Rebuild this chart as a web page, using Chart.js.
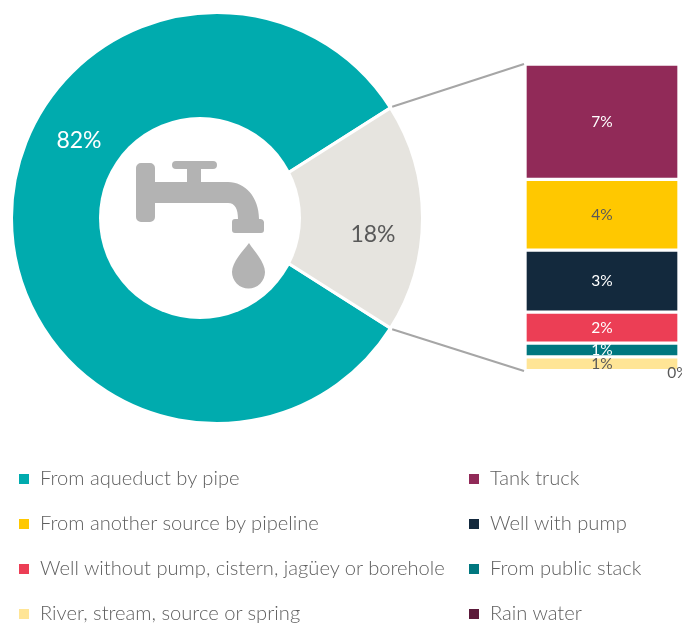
<!DOCTYPE html>
<html>
<head>
<meta charset="utf-8">
<script src="https://cdn.jsdelivr.net/npm/chart.js@4"></script>
<style>
  html, body { margin: 0; background: #fff; overflow: hidden; }
  #wrap { position: relative; width: 682px; height: 623px; overflow: hidden; }
  canvas { position: absolute; left: 0; top: 0; }
  .item { position: absolute; font: 300 20.15px Lato, sans-serif; color: #5f5f5f; line-height: 24px; white-space: nowrap; }
  .item i { position: absolute; left: -21px; top: 9px; width: 10px; height: 10px; }
</style>
</head>
<body>
<div id="wrap">
  <canvas id="pie" width="682" height="623"></canvas>
  <canvas id="bars" width="682" height="623"></canvas>
</div>
<script>
var pieLabels = ["From aqueduct by pipe", "Other sources"];
var pieValues = [82, 18];
var pieColors = ["#00ABAE", "#E6E4DF"];

var barLabels = ["Tank truck", "From another source by pipeline", "Well with pump",
  "Well without pump, cistern, jagüey or borehole", "From public stack",
  "River, stream, source or spring", "Rain water"];
var barValues = [6.7, 4.1, 3.6, 1.8, 0.8, 0.8, 0.02];
var barText = ["7%", "4%", "3%", "2%", "1%", "1%", "0%"];
var barColors = ["#912A58", "#FFC800", "#13293D", "#EC3E55", "#00777F", "#FFE596", "#5C1A3A"];
var barTextColors = ["#fff", "#595959", "#fff", "#fff", "#fff", "#595959", "#595959"];

var legendOrder = [
  [pieLabels[0], pieColors[0]], [barLabels[0], barColors[0]],
  [barLabels[1], barColors[1]], [barLabels[2], barColors[2]],
  [barLabels[3], barColors[3]], [barLabels[4], barColors[4]],
  [barLabels[5], barColors[5]], [barLabels[6], barColors[6]]
];

// html legend, two columns, reads left to right
var wrap = document.getElementById("wrap");
legendOrder.forEach((entry, i) => {
  var el = document.createElement("div");
  el.className = "item";
  el.style.left = (i % 2 ? 490 : 40) + "px";
  el.style.top = (465 + 45 * Math.floor(i / 2)) + "px";
  el.innerHTML = '<i style="background:' + entry[1] + '"></i>';
  el.appendChild(document.createTextNode(entry[0]));
  wrap.appendChild(el);
});

var barTotal = barValues.reduce((a, b) => a + b, 0);

var barValueLabels = {
  id: "barValueLabels",
  afterDatasetsDraw(chart) {
    var ctx = chart.ctx;
    ctx.save();
    ctx.font = "15.500px Lato, sans-serif";
    ctx.textAlign = "center";
    ctx.textBaseline = "middle";
    chart.data.datasets.forEach((ds, i) => {
      var bar = chart.getDatasetMeta(i).data[0];
      var last = i === barValues.length - 1;
      ctx.fillStyle = barTextColors[i];
      // the 0% label hangs off the right end of the bar
      ctx.fillText(barText[i], last ? bar.x + bar.width / 2 - 1 : bar.x, (bar.y + bar.base) / 2 + (last ? 2 : 0));
    });
    ctx.restore();
  }
};

var barChart = new Chart(document.getElementById("bars"), {
  type: "bar",
  data: {
    labels: ["Other sources"],
    datasets: barLabels.map((label, i) => ({
      label: label,
      data: [barValues[i]],
      backgroundColor: barColors[i],
      borderColor: "#fff",
      borderWidth: 2,
      borderSkipped: false,
      barPercentage: 1,
      categoryPercentage: 1
    }))
  },
  options: {
    responsive: false,
    animation: false,
    layout: { padding: { left: 525, right: 3, top: 64, bottom: 252 } },
    plugins: { legend: { display: false }, tooltip: { enabled: false } },
    scales: {
      x: { stacked: true, display: false },
      y: { stacked: true, display: false, reverse: true, min: 0, max: barTotal }
    }
  },
  plugins: [barValueLabels]
});

var faucet = new Path2D(
  "M141 163h9a5 5 0 0 1 5 5v14h32v-13h-11a4 4 0 0 1 0-8h37a4 4 0 0 1 0 8h-12v13h27" +
  "c17 0 31 15 31 37h1a4 4 0 0 1 4 3v8a3 3 0 0 1-3 3h-26a3 3 0 0 1-3-3v-8a3 3 0 0 1 3-3h3" +
  "c0-10-3-16-10-16h-73v14a5 5 0 0 1-5 5h-9a5 5 0 0 1-5-5v-49a5 5 0 0 1 5-5z" +
  "M249 243c5 8 16 19 16 29a16.500 16.500 0 0 1-33 0c0-10 11-21 17-29z");

var pieDecor = {
  id: "pieDecor",
  afterDatasetsDraw(chart) {
    var ctx = chart.ctx;
    var wedge = chart.getDatasetMeta(0).data[1];
    ctx.save();

    // white disc sits off centre, on top of the pie
    ctx.fillStyle = "#fff";
    ctx.beginPath();
    ctx.arc(200, 218, 101, 0, Math.PI * 2);
    ctx.fill();
    ctx.fillStyle = "#B3B3B3";
    ctx.fill(faucet);

    // connector lines from the wedge corners to the stacked bar
    var yScale = barChart.scales.y;
    var left = barChart.chartArea.left - 1;
    var r = wedge.outerRadius + 2;
    ctx.strokeStyle = "#A6A6A6";
    ctx.lineWidth = 2;
    [[wedge.startAngle, 0], [wedge.endAngle, barTotal]].forEach(p => {
      ctx.beginPath();
      ctx.moveTo(wedge.x + r * Math.cos(p[0]), wedge.y + r * Math.sin(p[0]));
      ctx.lineTo(left, yScale.getPixelForValue(p[1]));
      ctx.stroke();
    });

    ctx.font = "23px Lato, sans-serif";
    ctx.textAlign = "center";
    ctx.textBaseline = "middle";
    ctx.fillStyle = "#fff";
    ctx.fillText(pieValues[0] + "%", 79, 141);
    ctx.fillStyle = "#595959";
    ctx.fillText(pieValues[1] + "%", 373, 235);
    ctx.restore();
  }
};

new Chart(document.getElementById("pie"), {
  type: "doughnut",
  data: {
    labels: pieLabels,
    datasets: [{
      data: pieValues,
      backgroundColor: pieColors,
      borderColor: "#fff",
      borderWidth: 3
    }]
  },
  options: {
    responsive: false,
    animation: false,
    cutout: 0,
    rotation: 90 + pieValues[1] * 1.8,
    layout: { padding: { left: 10, right: 258, top: 11, bottom: 198 } },
    plugins: { legend: { display: false }, tooltip: { enabled: false } }
  },
  plugins: [pieDecor]
});
</script>
</body>
</html>
